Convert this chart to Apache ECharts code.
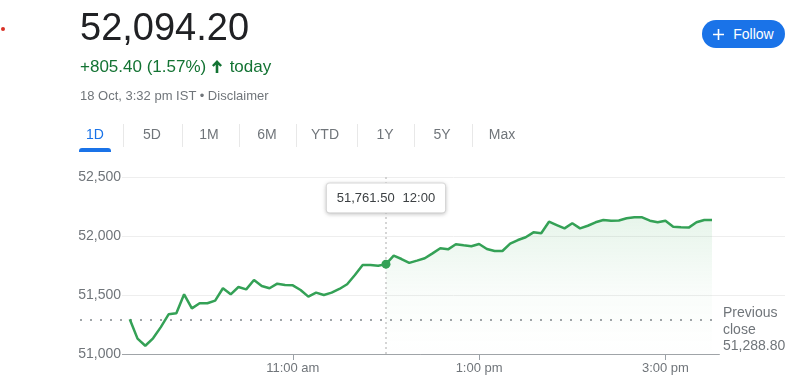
<!DOCTYPE html>
<html>
<head>
<meta charset="utf-8">
<script src="https://cdn.jsdelivr.net/npm/echarts@6/dist/echarts.min.js"></script>
<style>
html,body{margin:0;padding:0;background:#fff;}
body{width:800px;height:390px;position:relative;overflow:hidden;font-family:"Liberation Sans",Arial,sans-serif;}
#chart{position:absolute;left:0;top:0;width:800px;height:390px;z-index:1;}
.abs{position:absolute;white-space:nowrap;z-index:2;}
#reddot{left:1px;top:27px;width:4px;height:4px;border-radius:50%;background:#d93025;}
#price{left:80px;top:8px;font-size:38px;line-height:38px;color:#202124;}
#change{left:80px;top:58px;font-size:17px;line-height:17px;color:#137333;}
#change svg{vertical-align:-1px;margin:0 3px 0 1px;}
#stamp{left:80px;top:89px;font-size:13px;line-height:13px;color:#70757a;}
#follow{left:702px;top:20px;width:83px;height:28px;border-radius:14px;background:#1a73e8;color:#fff;font-size:14px;display:flex;align-items:center;justify-content:center;}
#follow svg{margin-right:9px;}
.tab{top:127px;width:60px;text-align:center;font-size:14px;line-height:14px;color:#70757a;}
.tab.sel{color:#1a73e8;}
.sep{top:124px;width:1px;height:23px;background:#e8e8e8;}
#uline{left:79px;top:148px;width:32px;height:4px;background:#1a73e8;border-radius:3px 3px 0 0;}
</style>
</head>
<body>
<div id="chart"></div>
<div class="abs" id="reddot"></div>
<div class="abs" id="price">52,094.20</div>
<div class="abs" id="change">+805.40 (1.57%) <svg width="10" height="13" viewBox="0 0 10 13"><path fill="#137333" d="M5 0L10 5.2L8.3 6.8L6.3 4.7V13H3.7V4.7L1.7 6.8L0 5.2Z"/></svg> today</div>
<div class="abs" id="stamp">18 Oct, 3:32 pm IST • Disclaimer</div>
<div class="abs" id="follow"><svg width="11" height="11" viewBox="0 0 11 11"><path d="M5.5 0v11M0 5.5h11" stroke="#fff" stroke-width="1.6"/></svg>Follow</div>
<div class="abs tab sel" style="left:65px">1D</div>
<div class="abs sep" style="left:123px"></div>
<div class="abs tab" style="left:122px">5D</div>
<div class="abs sep" style="left:182px"></div>
<div class="abs tab" style="left:179px">1M</div>
<div class="abs sep" style="left:239px"></div>
<div class="abs tab" style="left:237px">6M</div>
<div class="abs sep" style="left:296px"></div>
<div class="abs tab" style="left:295px">YTD</div>
<div class="abs sep" style="left:357px"></div>
<div class="abs tab" style="left:355px">1Y</div>
<div class="abs sep" style="left:414px"></div>
<div class="abs tab" style="left:412px">5Y</div>
<div class="abs sep" style="left:472px"></div>
<div class="abs tab" style="left:472px">Max</div>
<div class="abs" id="uline"></div>
<script>
// ---- data ----
const TIMES = ['9:15','9:20','9:25','9:30','9:35','9:40','9:45','9:50','9:55',
  '10:00','10:05','10:10','10:15','10:20','10:25','10:30','10:35','10:40','10:45','10:50','10:55',
  '11:00','11:05','11:10','11:15','11:20','11:25','11:30','11:35','11:40','11:45','11:50','11:55',
  '12:00','12:05','12:10','12:15','12:20','12:25','12:30','12:35','12:40','12:45','12:50','12:55',
  '13:00','13:05','13:10','13:15','13:20','13:25','13:30','13:35','13:40','13:45','13:50','13:55',
  '14:00','14:05','14:10','14:15','14:20','14:25','14:30','14:35','14:40','14:45','14:50','14:55',
  '15:00','15:05','15:10','15:15','15:20','15:25','15:30'];
const VALUES = [51295, 51130, 51070, 51133, 51228, 51336, 51345, 51506, 51387, 51430,
  51430, 51452, 51557, 51506, 51568, 51548, 51627, 51576, 51557, 51596,
  51585, 51582, 51542, 51486, 51520, 51500, 51520, 51551, 51591, 51670,
  51754, 51754, 51748, 51761.5, 51833, 51805, 51772, 51791, 51811, 51853,
  51896, 51887, 51930, 51921, 51913, 51932, 51890, 51873, 51873, 51935,
  51966, 51989, 52031, 52023, 52121, 52093, 52065, 52108, 52065, 52087,
  52116, 52136, 52130, 52132, 52150, 52158, 52158, 52130, 52116, 52130,
  52079, 52074, 52071, 52116, 52136, 52136];
const PREV_CLOSE = 51288.80;
const PREV_LABEL = ['Previous', 'close'];
const HOVER_TIME = '12:00';
const Y_MIN = 51000, Y_MAX = 52500, Y_STEP = 500;
const X_TICKS = ['11:00', '13:00', '15:00'];
const X_TICK_LABELS = ['11:00 am', '1:00 pm', '3:00 pm'];
const VIEW_START = '9:10', VIEW_END = '16:17';
const AXIS_LINE_START = '9:10', AXIS_LINE_END = '15:35';

// ---- helpers ----
const FONT = '"Liberation Sans", Arial, sans-serif';
const GREEN = '#34a156';
const toMin = s => { const p = s.split(':').map(Number); return p[0] * 60 + p[1]; };
const fmt2 = v => v.toLocaleString('en-US', {minimumFractionDigits: 2, maximumFractionDigits: 2});
const lineData = TIMES.map((t, i) => [toMin(t), VALUES[i]]);
const hoverIdx = TIMES.indexOf(HOVER_TIME);
const areaData = lineData.slice(hoverIdx);
const tickMins = X_TICKS.map(toMin);

const chart = echarts.init(document.getElementById('chart'), null, {renderer: 'canvas'});
chart.setOption({
  animation: false,
  textStyle: {fontFamily: FONT},
  grid: [
    {left: 122, right: 15, top: 177, bottom: 36},
    {left: 80, right: 86, top: 177, bottom: 36}
  ],
  xAxis: [
    {gridIndex: 0, type: 'value', min: toMin(VIEW_START), max: toMin(VIEW_END),
     axisLine: {show: false}, splitLine: {show: false},
     axisTick: {show: true, customValues: tickMins, length: 6, lineStyle: {color: '#9aa0a6'}},
     axisLabel: {customValues: tickMins, formatter: v => X_TICK_LABELS[tickMins.indexOf(v)],
       margin: 8, color: '#70757a', fontSize: 13, fontFamily: FONT}},
    {gridIndex: 1, type: 'value', min: 0, max: 1, show: false}
  ],
  yAxis: [
    {gridIndex: 0, type: 'value', min: Y_MIN, max: Y_MAX, interval: Y_STEP,
     axisLine: {show: false}, axisTick: {show: false},
     splitLine: {show: true, showMinLine: false, lineStyle: {color: '#eeeeee', width: 1}},
     axisLabel: {formatter: v => v.toLocaleString('en-US'), color: '#70757a', fontSize: 14, margin: 1, fontFamily: FONT}},
    {gridIndex: 1, type: 'value', min: Y_MIN, max: Y_MAX, show: false}
  ],
  series: [
    {type: 'line', name: 'area', xAxisIndex: 0, yAxisIndex: 0, data: areaData, silent: true,
     showSymbol: false, symbol: 'none', z: 1, lineStyle: {width: 0, opacity: 0},
     areaStyle: {origin: 'start', color: new echarts.graphic.LinearGradient(0, 0, 0, 1, [
       {offset: 0, color: 'rgba(52,168,83,0.17)'},
       {offset: 0.55, color: 'rgba(52,168,83,0.04)'},
       {offset: 1, color: 'rgba(52,168,83,0)'}])}},
    {type: 'line', name: 'index', xAxisIndex: 0, yAxisIndex: 0, data: lineData, silent: true,
     showSymbol: false, symbol: 'none', z: 3, lineStyle: {color: GREEN, width: 2.5},
     markLine: {silent: true, symbol: ['none', 'none'], animation: false, z: 4, label: {show: false},
       data: [
         [{coord: [toMin(AXIS_LINE_START), Y_MIN], lineStyle: {color: '#a0a4a8', width: 1, type: 'solid'}},
          {coord: [toMin(AXIS_LINE_END), Y_MIN]}],
         {xAxis: toMin(HOVER_TIME), lineStyle: {color: '#c8c8c8', width: 1.5, type: [2, 3]}}
       ]},
     markPoint: {silent: true, animation: false, z: 6,
       data: [
         {coord: [toMin(HOVER_TIME), VALUES[hoverIdx]], symbol: 'circle', symbolSize: 9,
          itemStyle: {color: GREEN}, label: {show: false}},
         {coord: [toMin(HOVER_TIME), Y_MAX], symbol: 'rect', symbolSize: 1,
          itemStyle: {color: 'rgba(0,0,0,0)'},
          label: {show: true, position: 'inside', offset: [0, 21],
            formatter: '{v|' + fmt2(VALUES[hoverIdx]) + '}{t|' + HOVER_TIME + '}',
            backgroundColor: '#fff', borderColor: '#e2e2e2', borderWidth: 1, borderRadius: 3,
            padding: [8, 10], shadowBlur: 4, shadowColor: 'rgba(0,0,0,0.18)', shadowOffsetY: 1,
            rich: {
              v: {fontSize: 13, color: '#3c4043', fontFamily: FONT, padding: [0, 8, 0, 0]},
              t: {fontSize: 13, color: '#3c4043', fontFamily: FONT}
            }}}
       ]}},
    {type: 'line', name: 'prev', xAxisIndex: 1, yAxisIndex: 1, data: [[0, PREV_CLOSE], [1, PREV_CLOSE]],
     silent: true, showSymbol: false, symbol: 'none', z: 2,
     lineStyle: {color: '#80868b', width: 1.5, type: [2, 8]},
     endLabel: {show: true, formatter: PREV_LABEL.join('\n') + '\n' + fmt2(PREV_CLOSE),
       color: '#70757a', fontSize: 14, lineHeight: 16.5, distance: 9, offset: [0, 10], align: 'left', fontFamily: FONT}}
  ]
});
</script>
</body>
</html>
